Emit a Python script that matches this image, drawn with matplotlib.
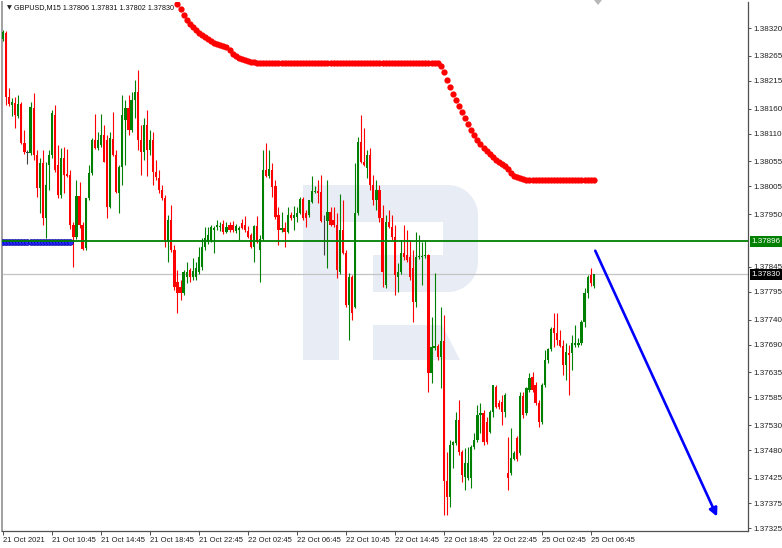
import matplotlib
matplotlib.use("Agg")
import matplotlib.pyplot as plt
from matplotlib.patches import Polygon
import numpy as np

# GBPUSD M15, prices stored in points (1e-5)
opens = [138298,138310,138183,138167,138171,138145,138169,138091,138072,138072,
         138161,138068,138002,138052,137942,138048,138068,138147,138048,137988,
         138062,138030,138028,137928,137904,137986,137928,137882,137982,138032,
         138097,138081,138087,138107,138097,137964,138099,138068,137992,138044,
         138137,138161,138117,138177,138193,138097,138074,138127,138078,138097,
         138034,138022,137998,137982,137894,137938,137879,137815,137805,137793,
         137825,137839,137825,137825,137835,137845,137884,137894,137898,137918,
         137924,137924,137930,137914,137928,137928,137916,137918,137932,137928,
         137916,137908,137884,137926,137879,137900,138038,138026,138038,138006,
         137948,137918,137922,137914,137948,137942,137944,137952,137980,137952,
         137948,137974,137994,137996,137994,137942,137936,137954,137938,137928,
         137835,137918,137873,137769,137825,137765,137952,138093,138054,138042,
         138068,138008,137978,137998,137942,137809,137934,137924,137904,137825,
         137835,137873,137869,137865,137843,137775,137865,137865,137867,137869,
         137634,137683,137687,137666,137697,137419,137387,137490,137494,137540,
         137477,137427,137425,137425,137487,137500,137550,137554,137536,137516,
         137556,137606,137574,137576,137556,137435,137435,137463,137504,137475,
         137588,137554,137600,137626,137610,137574,137536,137610,137660,137682,
         137724,137714,137700,137687,137650,137674,137674,137689,137689,137693,
         137735,137793,137829,137806]
highs = [138316,138314,138201,138181,138183,138187,138173,138117,138078,138173,
         138191,138078,138062,138078,138054,138078,138157,138167,138087,138081,
         138083,138079,138038,137934,138018,138014,137934,137982,138048,138101,
         138149,138113,138149,138127,138107,138113,138153,138078,138048,138187,
         138177,138187,138193,138217,138237,138127,138141,138157,138117,138113,
         138058,138038,138008,137988,137948,137968,137888,137839,137819,137839,
         137855,137843,137863,137855,137884,137902,137924,137924,137928,137926,
         137938,137934,137938,137934,137934,137936,137930,137926,137940,137946,
         137926,137912,137928,137946,137908,138078,138091,138078,138052,138018,
         137964,137954,137934,137964,137954,137966,137964,137984,137984,137958,
         137978,138026,138006,138018,138028,137948,138018,137964,137964,137952,
         137990,137978,137879,137833,137829,138052,138103,138147,138121,138078,
         138081,138028,138018,138008,137968,137948,137958,137948,137928,137853,
         137898,137928,137918,137898,137879,137914,137908,137894,137898,137871,
         137745,137833,137691,137765,137749,137477,137500,137498,137556,137580,
         137481,137485,137487,137490,137514,137570,137574,137560,137546,137560,
         137610,137610,137580,137590,137594,137506,137524,137479,137508,137596,
         137596,137606,137634,137636,137616,137580,137614,137680,137684,137726,
         137753,137753,137720,137699,137694,137689,137709,137729,137703,137739,
         137803,137829,137843,137831]
lows = [138294,138167,138165,138145,138121,138141,138089,138070,138050,138068,
        138058,137984,137952,137928,137902,137998,138062,138034,137982,137982,
        137992,138024,137920,137845,137900,137922,137879,137879,137978,138028,
        138079,138078,138083,138054,137942,137962,138066,137992,137952,138008,
        138048,138107,138113,138141,138078,138028,138058,138026,138068,138008,
        138018,137992,137978,137884,137855,137875,137799,137753,137779,137789,
        137813,137815,137819,137819,137831,137839,137879,137890,137894,137873,
        137918,137916,137910,137912,137914,137914,137912,137898,137920,137914,
        137902,137882,137855,137892,137815,137898,138024,138022,137984,137940,
        137888,137914,137884,137912,137938,137918,137934,137950,137938,137924,
        137944,137972,137992,137972,137934,137869,137843,137926,137924,137823,
        137831,137871,137765,137699,137739,137763,137948,138052,138046,138022,
        137998,137968,137958,137934,137805,137803,137922,137898,137789,137795,
        137831,137859,137855,137819,137735,137765,137861,137809,137863,137596,
        137614,137680,137660,137604,137351,137351,137367,137445,137490,137471,
        137417,137401,137421,137405,137483,137496,137514,137490,137492,137514,
        137546,137564,137562,137530,137546,137401,137431,137461,137459,137471,
        137544,137550,137596,137596,137570,137526,137532,137606,137654,137678,
        137685,137689,137685,137630,137620,137590,137640,137685,137685,137689,
        137725,137783,137807,137802]
closes = [138312,138183,138169,138173,138147,138169,138091,138074,138072,138163,
          138068,138002,138052,137942,138008,138068,138151,138038,137988,138062,
          138028,138026,137928,137904,137986,137928,137880,137982,138032,138097,
          138081,138097,138107,138054,137964,138101,138068,137994,138044,138147,
          138161,138117,138177,138193,138097,138074,138127,138078,138097,138034,
          138024,137998,137982,137894,137938,137879,137805,137793,137793,137835,
          137835,137825,137837,137843,137865,137884,137902,137908,137924,137922,
          137928,137926,137914,137924,137918,137918,137926,137922,137922,137918,
          137904,137884,137926,137894,137900,138038,138026,138040,138004,137944,
          137918,137922,137914,137948,137942,137948,137952,137980,137942,137942,
          137978,137996,137996,137992,137936,137942,137954,137928,137928,137839,
          137918,137873,137769,137825,137753,137952,138093,138054,138048,138068,
          138008,137978,137998,137942,137835,137934,137924,137904,137829,137835,
          137873,137865,137859,137825,137775,137865,137867,137867,137869,137634,
          137685,137687,137666,137697,137419,137387,137490,137496,137540,137477,
          137431,137455,137455,137487,137500,137550,137554,137496,137496,137556,
          137610,137566,137566,137556,137590,137425,137465,137475,137463,137588,
          137550,137604,137624,137600,137574,137536,137610,137660,137682,137722,
          137714,137700,137687,137650,137676,137670,137693,137693,137693,137735,
          137793,137825,137813,137830]

# red dotted indicator (starts at bar 57), blue dotted indicator (bars 0..22)
sar_start = 57
sar_red = ([138368,138358,138346,138336,138328,138322,138316,138310,138306,138302,
            138298,138294,138290,138288,138286,138284,138282,138277,138269,138265,
            138261,138259,138257,138255,138253,138252] + [138251]*60 +
           [138245,138233,138217,138203,138189,138177,138165,138153,138141,138129,
            138117,138107,138097,138089,138081,138076,138070,138064,138058,138054,
            138050,138046,138040,138032,138026,138024,138022,138020] + [138018]*23)
sar_blue = [137895]*23

level_green = 1.37896
last_price = 1.37830
arrow_from = (193.5, 1.37877)
arrow_to = (233.3, 1.37348)

ytick_vals = [1.38320,1.38265,1.38215,1.38160,1.38110,1.38055,1.38005,1.37950,
              1.37845,1.37795,1.37740,1.37690,1.37635,1.37585,1.37530,1.37480,
              1.37425,1.37375,1.37325]
xtick_labels = ["21 Oct 2021","21 Oct 10:45","21 Oct 14:45","21 Oct 18:45","21 Oct 22:45",
                "22 Oct 02:45","22 Oct 06:45","22 Oct 10:45","22 Oct 14:45","22 Oct 18:45",
                "22 Oct 22:45","25 Oct 02:45","25 Oct 06:45"]
xtick_pos = list(range(0, 16*len(xtick_labels), 16))

O = np.array(opens)/1e5; Hh = np.array(highs)/1e5; L = np.array(lows)/1e5; C = np.array(closes)/1e5
x = np.arange(len(O))

W, Hpx = 782, 548
fig = plt.figure(figsize=(W/100, Hpx/100), dpi=100)
fig.patch.set_facecolor("white")
ax = fig.add_axes([2/W, 1-531/Hpx, 746/W, 529/Hpx])
ax.set_xlim(-0.33, 243.4)
ax.set_ylim(1.373193, 1.383720)

# watermark "R" (figure pixel coords)
def P(px, py): return (px/W, 1-py/Hpx)
wm = "#e8edf5"
def add_poly(pts, color, z=0.1):
    ax.add_patch(Polygon([P(a, b) for a, b in pts], closed=True, transform=fig.transFigure,
                         facecolor=color, edgecolor="none", zorder=z))
r = 30
a1 = np.linspace(np.pi/2, 0, 15); a2 = np.linspace(0, -np.pi/2, 15)
bowl = ([(303,185)] + [(448+r*np.cos(a), 215-r*np.sin(a)) for a in a1] +
        [(448+r*np.cos(a), 262-r*np.sin(a)) for a in a2] +
        [(373,292),(373,255),(443,255),(443,222),(303,222)])
add_poly(bowl, wm)
add_poly([(303,185),(339,185),(339,360),(303,360)], wm)
add_poly([(373,325),(442,325),(460,360),(373,360)], wm)

# candles
up = C > O; dn = C < O
cols = np.where(up, "#008000", np.where(dn, "#ff0000", "#404040"))
ax.vlines(x, L, Hh, colors=cols, lw=0.8, zorder=3)
body = np.maximum(np.abs(C-O), 0.00001)
ax.bar(x, body, bottom=np.minimum(O, C), width=0.72, color=cols, lw=0, zorder=3)

# indicators
ax.plot(np.arange(sar_start, sar_start+len(sar_red)), np.array(sar_red)/1e5, "o",
        color="#ff0000", ms=4.5, mew=0, zorder=4)
ax.plot(np.arange(len(sar_blue)), np.array(sar_blue)/1e5, "o", color="#2a2aff",
        mec="#0000a0", mew=0.5, ms=4.2, zorder=4)
ax.axhline(last_price, color="#c4c4c4", lw=0.9, zorder=2)
ax.axhline(level_green, color="#008000", lw=1.3, zorder=5)
ax.annotate("", xy=arrow_to, xytext=arrow_from,
            arrowprops=dict(arrowstyle="-|>", color="#0000ff", lw=1.9, mutation_scale=12,
                            shrinkA=0, shrinkB=0), zorder=6)

# axes styling
ax.spines["top"].set_visible(False)
ax.spines["left"].set_color("#a0a0a0"); ax.spines["left"].set_linewidth(1.4)
for s in ["right", "bottom"]:
    ax.spines[s].set_color("#505050"); ax.spines[s].set_linewidth(0.9)
ax.yaxis.tick_right()
ax.set_yticks(ytick_vals)
ax.set_yticklabels([f"{v:.5f}" for v in ytick_vals])
ax.set_xticks(xtick_pos)
ax.set_xticklabels(xtick_labels, ha="left")
ax.tick_params(axis="y", direction="out", length=2.5, width=0.7, pad=1.5, labelsize=5.8,
               color="#505050", labelcolor="#202020", labelfontfamily="Liberation Sans")
ax.tick_params(axis="x", direction="out", length=3, width=0.7, pad=1.5, labelsize=5.5,
               color="#505050", labelcolor="#202020", labelfontfamily="Liberation Sans")

def price_box(val, fc):
    ax.annotate(f"{val:.5f}", xy=(1, val), xycoords=("axes fraction", "data"),
                xytext=(2.6, 0), textcoords="offset points", ha="left", va="center",
                fontsize=5.8, family="Liberation Sans", color="white", zorder=10,
                annotation_clip=False,
                bbox=dict(boxstyle="square,pad=0.25", fc=fc, ec="none"))
price_box(level_green, "#008000")
price_box(last_price, "#000000")

# header
fig.text(7/W, 1-8/Hpx, "\u25bc", fontsize=4.5, va="center", ha="left", color="#202020")
fig.text(14/W, 1-8/Hpx, "GBPUSD,M15 1.37806 1.37831 1.37802 1.37830", fontsize=5.2,
         family="Liberation Sans", va="center", ha="left", color="#101010")
fig.patches.append(Polygon([P(594, 0), P(602, 0), P(598, 5)], closed=True,
                           transform=fig.transFigure, fc="#b8b8b8", ec="none"))

fig.savefig("out.png", dpi=100)
